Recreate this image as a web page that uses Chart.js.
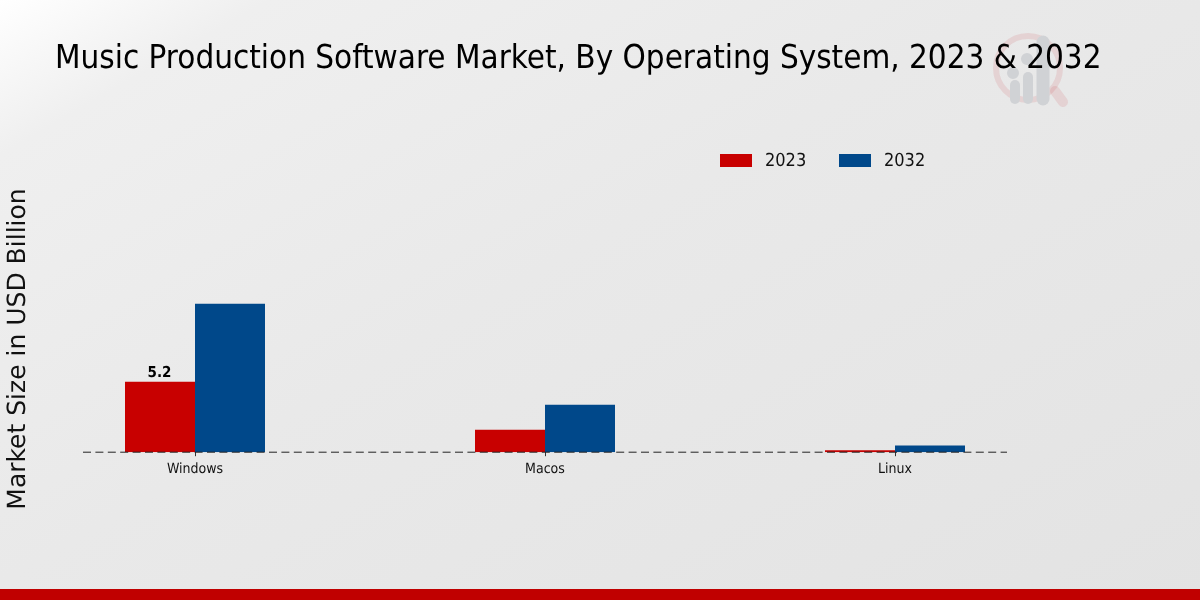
<!DOCTYPE html>
<html>
<head>
<meta charset="utf-8">
<title>Music Production Software Market</title>
<script src="https://cdn.jsdelivr.net/npm/chart.js@4"></script>
<style>
  html, body { margin: 0; padding: 0; }
  body {
    width: 1200px; height: 600px; overflow: hidden; position: relative;
    background: linear-gradient(150deg, #ffffff 0%, #efefef 12%, #e9e9e9 45%, #e3e3e3 100%);
  }
  #wrap { position: absolute; left: 0; top: 0; width: 1200px; height: 600px; }
  #footer { position: absolute; left: 0; top: 589px; width: 1200px; height: 11px; background: #c00000; }
</style>
</head>
<body>
<div id="wrap"><canvas id="myChart"></canvas></div>
<div id="footer"></div>
<script>
const titleText = 'Music Production Software Market, By Operating System, 2023 & 2032';
const yTitle = 'Market Size in USD Billion';
const categories = ['Windows', 'Macos', 'Linux'];
const values2023 = [5.2, 1.65, 0.15];
const values2032 = [10.95, 3.5, 0.5];
const seriesNames = ['2023', '2032'];
const seriesColors = ['#c80000', '#00488a'];

// faded logo behind the title
function drawLogo(ctx) {
  ctx.save();
  ctx.strokeStyle = 'rgba(200,60,70,0.13)';
  ctx.lineWidth = 6;
  ctx.beginPath();
  ctx.arc(1028, 68, 32, 0, Math.PI * 2);
  ctx.stroke();
  ctx.lineCap = 'round';
  ctx.lineWidth = 10;
  ctx.beginPath();
  ctx.moveTo(1055, 91);
  ctx.lineTo(1063, 102);
  ctx.stroke();
  ctx.strokeStyle = '#d0d2d5';
  [[1015, 85, 10], [1028, 77, 10], [1043, 42, 13]].forEach(b => {
    ctx.lineWidth = b[2];
    ctx.beginPath();
    ctx.moveTo(b[0], 99);
    ctx.lineTo(b[0], b[1]);
    ctx.stroke();
  });
  ctx.fillStyle = '#d0d2d5';
  ctx.beginPath();
  ctx.arc(1027, 59, 6, 0, Math.PI * 2);
  ctx.arc(1013, 73, 6, 0, Math.PI * 2);
  ctx.fill();
  ctx.restore();
}

const textPlugin = {
  id: 'textPlugin',
  beforeDraw(chart) {
    chart.ctx.textRendering = 'geometricPrecision';
    drawLogo(chart.ctx);
  },
  afterDatasetsDraw(chart) {
    const ctx = chart.ctx;
    const x = chart.scales.x;
    const y = chart.scales.y;
    const base = y.getPixelForValue(0);

    // dashed baseline, stops short of the plot edges
    ctx.save();
    ctx.strokeStyle = '#222';
    ctx.lineWidth = 1;
    ctx.setLineDash([8, 4.4]);
    ctx.beginPath();
    ctx.moveTo(x.getPixelForValue(0) - 112, base);
    ctx.lineTo(x.getPixelForValue(2) + 112, base);
    ctx.stroke();
    ctx.setLineDash([]);

    // only the first bar carries a label
    const bar = chart.getDatasetMeta(0).data[0];
    ctx.fillStyle = '#000';
    ctx.font = 'bold 15px "DejaVu Sans Condensed", "DejaVu Sans"';
    ctx.textAlign = 'center';
    ctx.textBaseline = 'bottom';
    ctx.fillText(values2023[0].toFixed(1), bar.x - 0.5, bar.y - 1);

    // title
    ctx.font = '32.9px "DejaVu Sans Condensed", "DejaVu Sans"';
    ctx.textAlign = 'left';
    ctx.textBaseline = 'alphabetic';
    ctx.fillText(titleText, 55, 68);

    // legend
    ctx.font = '18px "DejaVu Sans Condensed", "DejaVu Sans"';
    ctx.textBaseline = 'middle';
    ctx.fillStyle = seriesColors[0];
    ctx.fillRect(720, 154, 32, 13);
    ctx.fillStyle = seriesColors[1];
    ctx.fillRect(839, 154, 32, 13);
    ctx.fillStyle = '#111';
    ctx.fillText(seriesNames[0], 765, 161);
    ctx.fillText(seriesNames[1], 884, 161);

    // y axis title
    ctx.translate(18, 349);
    ctx.rotate(-Math.PI / 2);
    ctx.font = '25px "DejaVu Sans"';
    ctx.textAlign = 'center';
    ctx.textBaseline = 'middle';
    ctx.fillText(yTitle, 0, 0);
    ctx.restore();
  }
};

new Chart(document.getElementById('myChart'), {
  type: 'bar',
  data: {
    labels: categories,
    datasets: [
      { label: seriesNames[0], data: values2023, backgroundColor: seriesColors[0] },
      { label: seriesNames[1], data: values2032, backgroundColor: seriesColors[1] }
    ]
  },
  options: {
    responsive: true,
    maintainAspectRatio: false,
    animation: false,
    devicePixelRatio: 1,
    layout: { padding: { left: 20, right: 130, top: 100, bottom: 117 } },
    datasets: { bar: { barPercentage: 1, categoryPercentage: 0.4 } },
    plugins: { legend: { display: false }, title: { display: false }, tooltip: { enabled: false } },
    scales: {
      x: {
        grid: { drawOnChartArea: false, offset: false, tickLength: 4, color: '#333' },
        border: { display: false },
        ticks: { color: '#111', padding: 5, maxRotation: 0, font: { family: '"DejaVu Sans Condensed", "DejaVu Sans"', size: 14 } }
      },
      y: { display: false, min: 0, max: 26 }
    }
  },
  plugins: [textPlugin]
});
</script>
</body>
</html>
